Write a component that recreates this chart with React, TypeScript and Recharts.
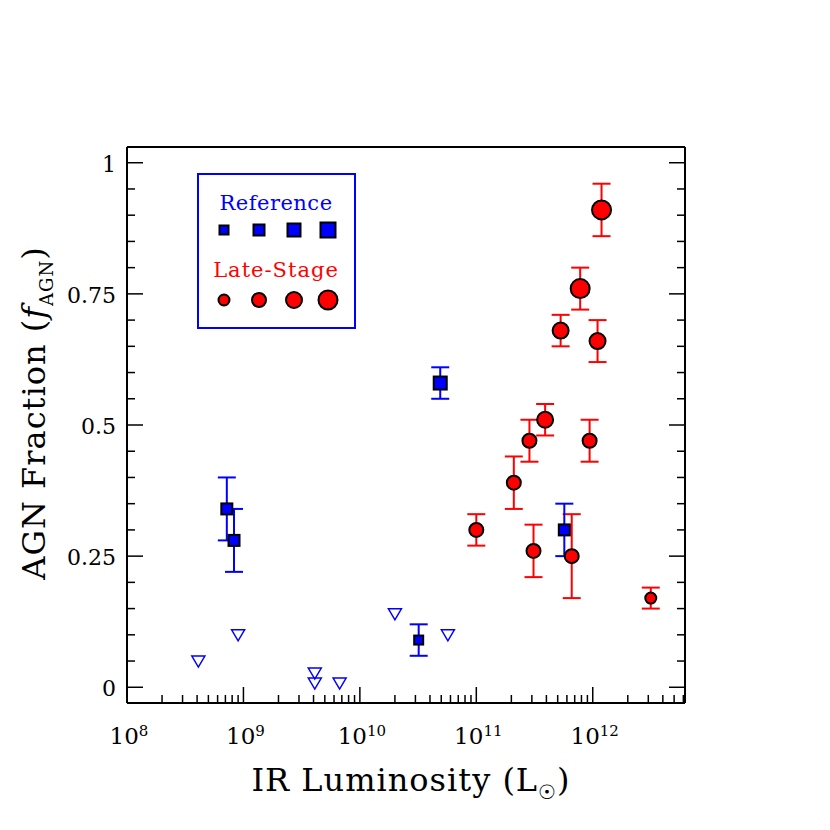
import React from 'react'
import { ScatterChart, Scatter, XAxis, YAxis, ErrorBar } from 'recharts'

const BLUE = '#0000ff'
const RED = '#ff0000'
const FONT = '"DejaVu Serif", serif'

// Reference sample (blue squares with error bars)
const refLum = [7.2e8, 8.3e8, 4.9e10, 3.2e10, 5.7e11]
const refFrac = [0.34, 0.28, 0.58, 0.09, 0.3]
const refErr = [0.06, 0.06, 0.03, 0.03, 0.05]
const refSize = [2, 2, 3, 1, 2]

// Reference upper limits (open triangles)
const limLum = [4.1e8, 9.0e8, 4.1e9, 4.1e9, 6.7e9, 2.0e10, 5.7e10]
const limFrac = [0.05, 0.1, 0.027, 0.008, 0.008, 0.14, 0.1]

// Late-stage mergers (red circles)
const lateLum = [1.0e11, 2.1e11, 2.86e11, 3.9e11, 3.1e11, 6.6e11, 5.3e11, 7.8e11, 1.19e12, 1.1e12, 9.4e11, 3.15e12]
const lateFrac = [0.3, 0.39, 0.47, 0.51, 0.26, 0.25, 0.68, 0.76, 0.91, 0.66, 0.47, 0.17]
const lateErr = [0.03, 0.05, 0.04, 0.03, 0.05, 0.08, 0.03, 0.04, 0.05, 0.04, 0.04, 0.02]
const lateSize = [2, 2, 2, 3, 2, 2, 3, 4, 4, 3, 2, 1]

const xMajor = [1e8, 1e9, 1e10, 1e11, 1e12]
const xMinorMult = [2, 3, 4, 5, 6, 7, 8, 9]
const xDomain = [1e8, 6.2e12]
const xTicks = xMajor.flatMap(d => [d, ...xMinorMult.map(m => m * d)]).filter(v => v <= xDomain[1])

const yMajor = [0, 0.25, 0.5, 0.75, 1]
const yMajorLabels = ['0', '0.25', '0.5', '0.75', '1']
const yMinorStep = 0.05
const yDomain = [-0.03, 1.03]
const yTicks = Array.from({ length: 21 }, (_, i) => +(i * yMinorStep).toFixed(2))

const SQ = [9, 11, 13, 15]
const CR = [5.5, 7, 8, 9.5]

const refData = refLum.map((x, i) => ({ x, y: refFrac[i], err: refErr[i], s: refSize[i] }))
const limData = limLum.map((x, i) => ({ x, y: limFrac[i] }))
const lateData = lateLum.map((x, i) => ({ x, y: lateFrac[i], err: lateErr[i], s: lateSize[i] }))

function XTick({ x, y, payload, side }: any) {
  const v = payload.value
  const major = xMajor.includes(v)
  const len = major ? 16 : 8
  const dir = side === 'bottom' ? -1 : 1
  return (
    <g>
      <line x1={x} y1={y} x2={x} y2={y + dir * len} stroke="#000" strokeWidth={1.5} />
      {major && side === 'bottom' && (
        <text x={x + 2} y={y + 41} textAnchor="middle" fontFamily={FONT} fontSize={23} fill="#000">
          10<tspan dy={-8} fontSize={15}>{Math.round(Math.log10(v))}</tspan>
        </text>
      )}
    </g>
  )
}

function YTick({ x, y, payload, side }: any) {
  const v = payload.value
  const idx = yMajor.findIndex(m => Math.abs(m - v) < 1e-6)
  const major = idx >= 0
  const len = major ? 16 : 8
  const dir = side === 'left' ? 1 : -1
  return (
    <g>
      <line x1={x} y1={y} x2={x + dir * len} y2={y} stroke="#000" strokeWidth={1.5} />
      {major && side === 'left' && (
        <text x={x - 11} y={y + 9} textAnchor="end" fontFamily={FONT} fontSize={22} fill="#000">
          {yMajorLabels[idx]}
        </text>
      )}
    </g>
  )
}

function Square({ cx, cy, payload }: any) {
  const s = SQ[payload.s - 1]
  return <rect x={cx - s / 2} y={cy - s / 2} width={s} height={s} fill={BLUE} stroke="#000" strokeWidth={2} />
}

function Circle({ cx, cy, payload }: any) {
  return <circle cx={cx} cy={cy} r={CR[payload.s - 1]} fill={RED} stroke="#000" strokeWidth={2} />
}

function Triangle({ cx, cy }: any) {
  return (
    <polygon
      points={`${cx - 6.5},${cy - 5} ${cx + 6.5},${cy - 5} ${cx},${cy + 6}`}
      fill="none" stroke={BLUE} strokeWidth={1.5}
    />
  )
}

function XTitle({ viewBox }: any) {
  const { x, y } = viewBox
  return (
    <text x={x + 284} y={y + 88} textAnchor="middle" fontFamily={FONT} fontSize={32} letterSpacing={1} fill="#000">
      IR Luminosity (L<tspan dy={8} fontSize={20}>☉</tspan><tspan dy={-8}>)</tspan>
    </text>
  )
}

function YTitle({ viewBox }: any) {
  const { x, y, height } = viewBox
  const cx = x - 2
  const cy = y + height / 2 - 12
  return (
    <text x={cx} y={cy} transform={`rotate(-90 ${cx} ${cy})`} textAnchor="middle" fontFamily={FONT} fontSize={32} letterSpacing={1} fill="#000">
      AGN Fraction (<tspan fontStyle="italic">f</tspan><tspan dy={8} fontSize={18}>AGN</tspan><tspan dy={-8}>)</tspan>
    </text>
  )
}

function LegendBox() {
  const xs = [30, 65, 100, 134]
  return (
    <svg width={165} height={162} style={{ position: 'absolute', left: 186, top: 162 }}>
      <rect x={4} y={4} width={157} height={154} fill="#fff" stroke={BLUE} strokeWidth={2} />
      <text x={82} y={40} textAnchor="middle" fontFamily={FONT} fontSize={21} letterSpacing={0.5} fill={BLUE}>Reference</text>
      {SQ.map((s, i) => (
        <rect key={i} x={xs[i] - s / 2} y={60 - s / 2} width={s} height={s} fill={BLUE} stroke="#000" strokeWidth={2} />
      ))}
      <text x={82} y={107} textAnchor="middle" fontFamily={FONT} fontSize={21} letterSpacing={1} fill={RED}>Late-Stage</text>
      {CR.map((r, i) => (
        <circle key={i} cx={xs[i]} cy={130} r={r} fill={RED} stroke="#000" strokeWidth={2} />
      ))}
    </svg>
  )
}

export default function App() {
  const axisLine = { stroke: '#000', strokeWidth: 2 }
  return (
    <div style={{ position: 'relative', width: 822, height: 822, background: '#fff' }}>
      <ScatterChart width={822} height={822} margin={{ top: 134, right: 140, bottom: 47, left: 39 }}>
        <XAxis xAxisId="b" type="number" dataKey="x" scale="log" domain={xDomain} allowDataOverflow
          ticks={xTicks} interval={0} tickLine={false} tickSize={0} tickMargin={0} height={80}
          axisLine={axisLine} tick={(p: any) => <XTick {...p} side="bottom" />} label={{ content: XTitle }} />
        <XAxis xAxisId="t" orientation="top" type="number" scale="log" domain={xDomain} allowDataOverflow
          ticks={xTicks} interval={0} tickLine={false} tickSize={0} tickMargin={0} height={5}
          axisLine={axisLine} tick={(p: any) => <XTick {...p} side="top" />} />
        <YAxis yAxisId="l" type="number" dataKey="y" domain={yDomain} allowDataOverflow
          ticks={yTicks} interval={0} tickLine={false} tickSize={0} tickMargin={0} width={80}
          axisLine={axisLine} tick={(p: any) => <YTick {...p} side="left" />} label={{ content: YTitle }} />
        <YAxis yAxisId="r" orientation="right" type="number" domain={yDomain} allowDataOverflow
          ticks={yTicks} interval={0} tickLine={false} tickSize={0} tickMargin={0} width={5}
          axisLine={axisLine} tick={(p: any) => <YTick {...p} side="right" />} />
        <Scatter xAxisId="b" yAxisId="l" data={limData} shape={Triangle} isAnimationActive={false} />
        <Scatter xAxisId="b" yAxisId="l" data={lateData} shape={Circle} isAnimationActive={false}>
          <ErrorBar dataKey="err" direction="y" width={9} stroke={RED} strokeWidth={2} />
        </Scatter>
        <Scatter xAxisId="b" yAxisId="l" data={refData} shape={Square} isAnimationActive={false}>
          <ErrorBar dataKey="err" direction="y" width={9} stroke={BLUE} strokeWidth={2} />
        </Scatter>
      </ScatterChart>
      <LegendBox />
    </div>
  )
}
